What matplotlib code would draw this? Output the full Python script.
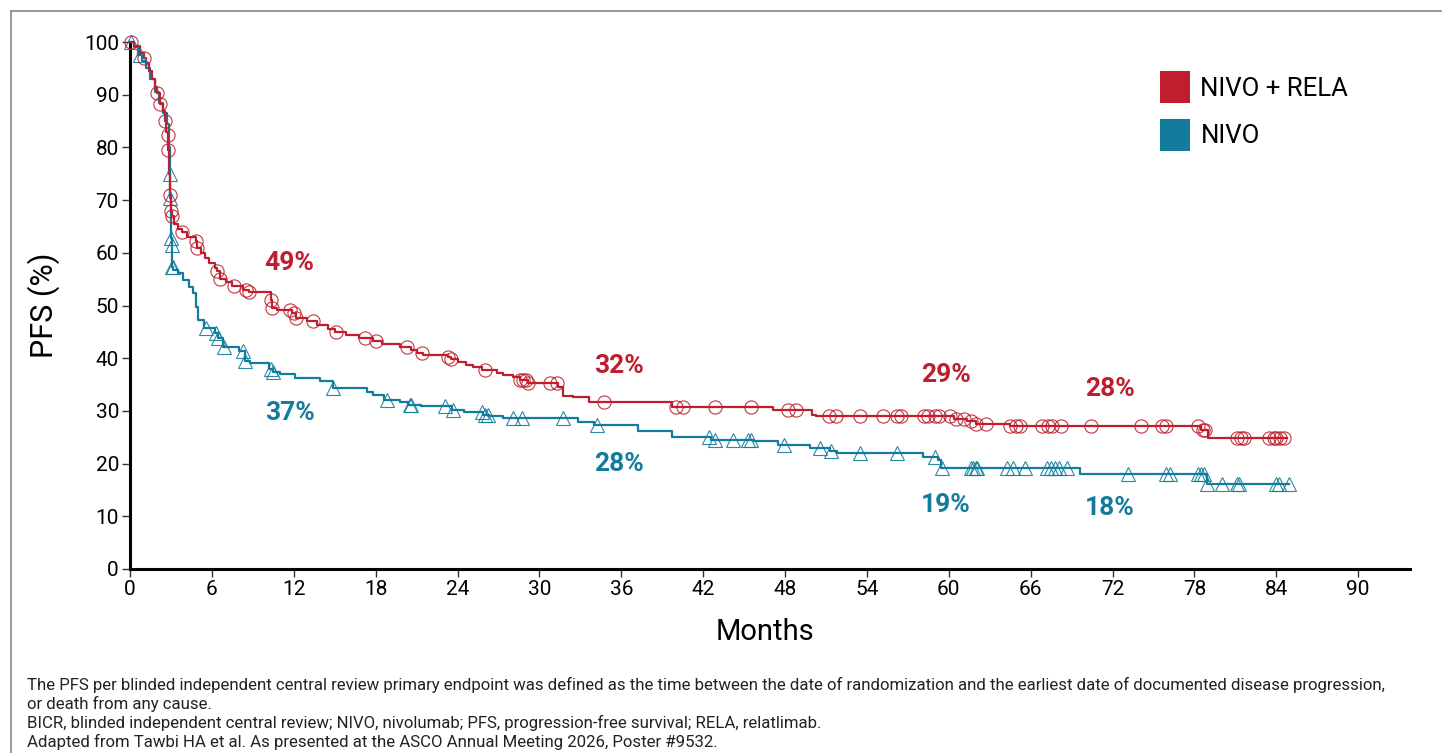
#!/usr/bin/env python3
"""Kaplan-Meier PFS chart: NIVO + RELA vs NIVO."""

import matplotlib
matplotlib.use("Agg")
import matplotlib.pyplot as plt
import numpy as np
from matplotlib.lines import Line2D
from matplotlib.patches import Patch

RED = "#BE1E2D"
BLUE = "#137C9C"

# NIVO + RELA: step times (months) and survival after each step (%)
red_t = [0.0, 0.3, 0.7, 1.0, 1.2, 1.4, 1.6, 1.8, 2.0, 2.2, 2.4, 2.55, 2.65, 2.75, 2.8,
         2.88, 2.95, 3.0, 3.05, 3.2, 3.5, 3.8, 4.2, 4.8, 4.9, 5.2, 5.5, 5.8, 6.2, 6.4,
         6.6, 7.0, 7.5, 8.3, 8.7, 10.3, 10.4, 10.8, 11.9, 12.2, 13.0, 13.7, 14.5, 15.0,
         15.8, 16.8, 17.8, 18.5, 19.8, 20.6, 21.0, 21.5, 23.3, 23.5, 24.0, 24.6, 25.1,
         25.8, 26.9, 27.3, 28.1, 28.6, 29.2, 31.4, 31.7, 32.5, 33.6, 39.7, 47.1, 50.0,
         50.3, 60.4, 61.3, 62.0, 64.5, 78.5, 79.0]
red_s = [100, 99.2, 98, 97, 96, 94.5, 93, 91.5, 90.3, 88.2, 87, 85, 83, 82.3, 79.5,
         75, 71, 68, 67, 65.5, 64.5, 64, 63, 62.2, 61, 60, 59, 58, 57.2, 56.5,
         55, 54.5, 53.7, 53, 52.6, 51, 49.5, 49.1, 48.5, 47.6, 47.0, 46.3, 45.5, 45,
         44.4, 43.8, 43.3, 42.7, 42.1, 41.5, 41.0, 40.6, 40.2, 39.8, 39.3, 38.8, 38.3,
         37.7, 37.2, 36.8, 36.5, 35.9, 35.3, 34.5, 32.8, 32.6, 31.7, 30.7, 30.2, 29.2,
         29.0, 28.5, 28.0, 27.6, 27.2, 26.4, 24.9]
red_end = 84.8
red_cens = [0.1, 1.0, 2.0, 2.2, 2.55, 2.75, 2.8, 2.95, 3.0, 3.05, 3.8, 4.8, 4.9, 6.4, 6.6,
            7.6, 8.5, 8.7, 10.3, 10.4, 11.7, 12.0, 12.2, 13.4, 15.1, 17.2, 18.0, 20.3,
            21.4, 23.3, 23.5, 26.0, 28.6, 28.8, 29.0, 29.2, 30.8, 31.3, 34.7, 40.0, 40.5,
            42.9, 45.5, 48.2, 48.8, 51.2, 51.7, 53.5, 55.2, 56.2, 56.5, 58.2, 58.5, 59.0,
            59.3, 60.1, 60.5, 61.1, 61.6, 62.0, 62.7, 64.5, 64.9, 65.2, 66.8, 67.3, 67.6,
            68.2, 70.4, 74.1, 75.6, 75.9, 78.3, 78.6, 78.8, 81.1, 81.4, 81.6, 83.5, 83.8,
            84.0, 84.3, 84.6]

# NIVO
blue_t = [0.0, 0.3, 0.6, 0.9, 1.2, 1.5, 1.8, 2.1, 2.4, 2.7, 2.85, 2.9, 2.95, 3.0, 3.05,
          3.1, 3.15, 3.5, 3.9, 4.3, 4.6, 4.8, 5.0, 5.4, 6.2, 6.45, 6.8, 8.0, 8.4, 8.8,
          10.2, 10.5, 11.0, 12.1, 13.9, 14.9, 17.4, 17.8, 18.6, 19.8, 20.4, 21.3, 23.6,
          24.5, 25.9, 26.3, 27.3, 32.8, 34.0, 37.2, 39.7, 42.6, 45.7, 47.5, 49.8, 51.3,
          51.8, 58.1, 59.2, 59.4, 69.6, 78.9]
blue_s = [100, 99, 97.5, 96.3, 95, 93, 90.5, 88.5, 86.5, 84.5, 80, 75, 70.4, 62.8, 61.5,
          57.3, 56.7, 56.2, 54.8, 53.5, 52.4, 49.7, 47.2, 45.7, 44.8, 43.8, 42.2, 41.4,
          39.5, 39.0, 38.0, 37.4, 37.0, 36.2, 35.7, 34.4, 33.5, 33.0, 32.1, 31.7, 31.1,
          30.9, 30.2, 29.8, 29.3, 29.0, 28.6, 27.9, 27.3, 26.1, 25.1, 24.5, 24.2, 23.6,
          23.0, 22.4, 22.0, 21.3, 20.7, 19.2, 18.0, 16.1]
blue_end = 84.9
blue_cens = [0.05, 0.7, 2.9, 2.95, 3.0, 3.05, 3.1, 3.12, 5.6, 6.3, 6.45, 6.9, 8.3, 8.4,
             10.3, 10.5, 14.9, 18.8, 20.5, 20.6, 23.1, 23.7, 25.8, 26.0, 26.2, 28.1, 28.7,
             31.7, 34.2, 42.4, 42.9, 44.2, 45.3, 45.5, 47.9, 50.6, 51.4, 53.5, 56.2, 59.0,
             59.5, 61.6, 61.8, 62.0, 62.1, 64.3, 64.7, 65.6, 67.2, 67.5, 67.8, 68.1, 68.7,
             73.1, 75.9, 76.2, 78.3, 78.5, 78.7, 78.9, 80.0, 81.1, 81.3, 84.0, 84.2, 84.9]

# milestone labels
red_lab_x = [11.7, 35.8, 59.8, 71.8]
red_lab_y = [58.0, 38.5, 36.8, 34.2]
red_lab = ["49%", "32%", "29%", "28%"]
blue_lab_x = [11.7, 35.8, 59.8, 71.8]
blue_lab_y = [29.6, 19.9, 12.1, 11.6]
blue_lab = ["37%", "28%", "19%", "18%"]

x_ticks = list(range(0, 91, 6))
y_ticks = list(range(0, 101, 10))

FOOTNOTE = [
    "The PFS per blinded independent central review primary endpoint was defined as the time between "
    "the date of randomization and the earliest date of documented disease progression,",
    "or death from any cause.",
    "BICR, blinded independent central review; NIVO, nivolumab; PFS, progression-free survival; "
    "RELA, relatlimab.",
    "Adapted from Tawbi HA et al. As presented at the ASCO Annual Meeting 2026, Poster #9532.",
]


def step_at(t, times, surv):
    idx = np.searchsorted(np.asarray(times), np.asarray(t), side="right") - 1
    return np.asarray(surv)[idx]


def draw_arm(ax, times, surv, end, cens, color, marker, ms):
    xs = list(times) + [end]
    ys = list(surv) + [surv[-1]]
    ax.step(xs, ys, where="post", color=color, lw=1.6, zorder=3, clip_on=False)
    ax.plot(cens, step_at(cens, times, surv), ls="none", marker=marker, ms=ms,
            mfc="none", mec=color, mew=0.8, alpha=0.9, zorder=4, clip_on=False)


def main():
    plt.rcParams["font.family"] = ["Roboto", "DejaVu Sans"]
    fig = plt.figure(figsize=(14.42, 7.53), dpi=100)
    ax = fig.add_axes([130 / 1442, 1 - 569 / 753, 1280 / 1442, 527 / 753])

    draw_arm(ax, blue_t, blue_s, blue_end, blue_cens, BLUE, "^", 9.5)
    draw_arm(ax, red_t, red_s, red_end, red_cens, RED, "o", 9.5)

    for x, y, s in zip(red_lab_x, red_lab_y, red_lab):
        ax.text(x, y, s, color=RED, fontsize=19, fontweight="bold", ha="center", va="center")
    for x, y, s in zip(blue_lab_x, blue_lab_y, blue_lab):
        ax.text(x, y, s, color=BLUE, fontsize=19, fontweight="bold", ha="center", va="center")

    ax.set_xlim(0, 93.8)
    ax.set_ylim(0, 100)
    ax.set_xticks(x_ticks)
    ax.set_yticks(y_ticks)
    for side in ("top", "right"):
        ax.spines[side].set_visible(False)
    for side in ("left", "bottom"):
        ax.spines[side].set_linewidth(2.2)
        ax.spines[side].set_color("black")
    ax.tick_params(axis="both", direction="out", length=6, width=1, color="#333333",
                   labelsize=15, pad=2)
    ax.set_xlabel("Months", fontsize=21)
    ax.set_ylabel("PFS (%)", fontsize=22)
    ax.xaxis.set_label_coords(0.496, -0.093)
    ax.yaxis.set_label_coords(-0.0547, 0.5)

    handles = [Patch(facecolor=RED, edgecolor="none", label="NIVO + RELA"),
               Patch(facecolor=BLUE, edgecolor="none", label="NIVO")]
    ax.legend(handles=handles, loc="upper left", bbox_to_anchor=(1137 / 1442, 1 - 48 / 753),
              bbox_transform=fig.transFigure, frameon=False, fontsize=18.5,
              handlelength=1.17, handleheight=1.55, handletextpad=0.4, labelspacing=0.6)

    # outer frame
    fig.add_artist(Line2D([11 / 1442, 11 / 1442], [0, 1 - 11 / 753], transform=fig.transFigure,
                          color="#888888", lw=1.2))
    fig.add_artist(Line2D([11 / 1442, 1], [1 - 11 / 753, 1 - 11 / 753], transform=fig.transFigure,
                          color="#888888", lw=1.2))

    for i, line in enumerate(FOOTNOTE):
        fig.text(27 / 1442, 1 - (685 + 19 * i) / 753, line, fontsize=12.1, color="#222222",
                 va="center", ha="left")

    fig.savefig("out.png", dpi=100)
    plt.close(fig)


if __name__ == "__main__":
    main()
